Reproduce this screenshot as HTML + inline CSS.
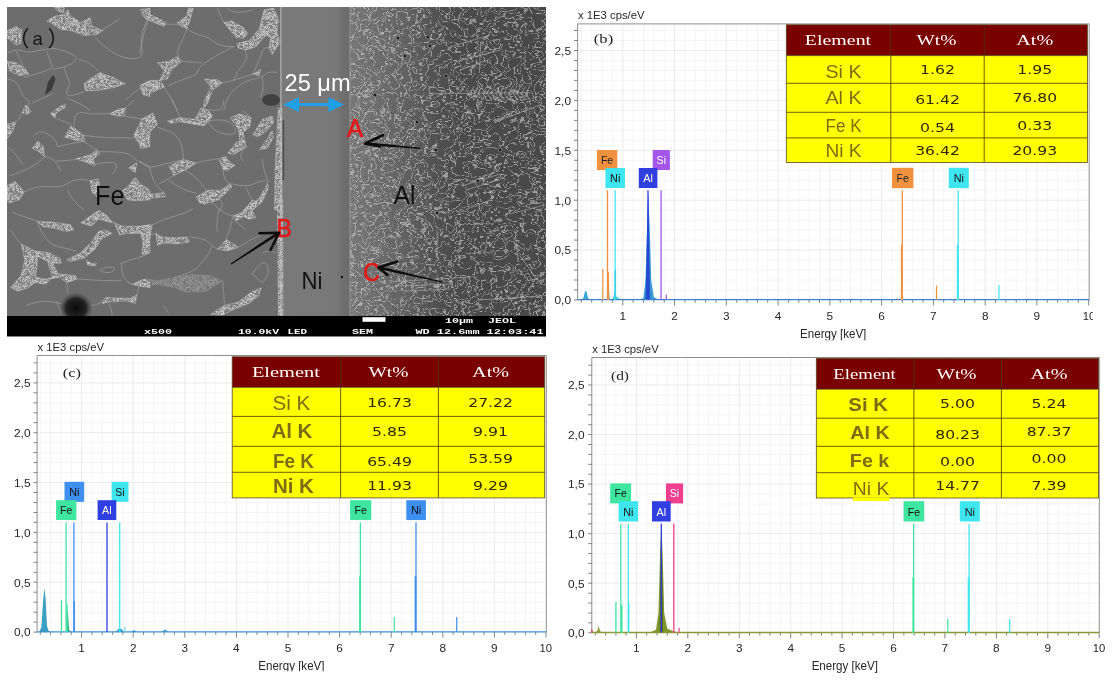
<!DOCTYPE html>
<html lang="en"><head><meta charset="utf-8"><title>SEM and EDS analysis</title>
<style>html,body{margin:0;padding:0;background:#fff}svg{display:block}</style></head>
<body>
<svg width="1113" height="683" viewBox="0 0 1113 683">
<rect width="1113" height="683" fill="#fff"/>
<defs>
<linearGradient id="niG" x1="0" x2="1" y1="0" y2="0"><stop offset="0" stop-color="#797979"/><stop offset="0.8" stop-color="#787878"/><stop offset="0.88" stop-color="#6f6f6f"/><stop offset="1" stop-color="#6b6b6b"/></linearGradient>
<linearGradient id="alG" x1="0" x2="1" y1="0" y2="0"><stop offset="0" stop-color="#626262"/><stop offset="0.25" stop-color="#565656"/><stop offset="0.45" stop-color="#4b4b4b"/><stop offset="1" stop-color="#484848"/></linearGradient>
<radialGradient id="blob"><stop offset="0" stop-color="#0a0a0a"/><stop offset="0.6" stop-color="#222"/><stop offset="1" stop-color="#555" stop-opacity="0"/></radialGradient>
<filter id="spk" x="0" y="0" width="100%" height="100%" filterUnits="objectBoundingBox"><feTurbulence type="fractalNoise" baseFrequency="0.3" numOctaves="2" seed="3" result="n"/><feComponentTransfer in="n"><feFuncA type="table" tableValues="0 0 0 0 0 0 0.75 0 0.8 0 0.75 0 0 0 0 0 0 0 0"/><feFuncR type="linear" slope="0" intercept="0.8"/><feFuncG type="linear" slope="0" intercept="0.8"/><feFuncB type="linear" slope="0" intercept="0.8"/></feComponentTransfer><feComposite in2="SourceGraphic" operator="in"/></filter>
<filter id="vein" x="0" y="0" width="100%" height="100%"><feTurbulence type="fractalNoise" baseFrequency="0.075 0.09" numOctaves="3" seed="11" result="n"/><feComponentTransfer in="n"><feFuncA type="table" tableValues="0 0 0 0 0 0 0 0 0 0 0 0 0.7 0 0 0 0 0.6 0 0 0 0 0 0 0 0 0 0 0 0"/><feFuncR type="linear" slope="0" intercept="0.72"/><feFuncG type="linear" slope="0" intercept="0.72"/><feFuncB type="linear" slope="0" intercept="0.72"/></feComponentTransfer><feComposite in2="SourceGraphic" operator="in"/></filter>
<filter id="grain" x="0" y="0" width="100%" height="100%"><feTurbulence type="fractalNoise" baseFrequency="0.8" numOctaves="1" seed="5"/><feColorMatrix type="matrix" values="0 0 0 0 0.62  0 0 0 0 0.62  0 0 0 0 0.62  0.5 0 0 0 -0.05"/><feComposite in2="SourceGraphic" operator="in"/></filter>
<linearGradient id="fadeG" x1="350" x2="460" y1="0" y2="0" gradientUnits="userSpaceOnUse"><stop offset="0" stop-color="#fff"/><stop offset="0.35" stop-color="#bbb"/><stop offset="1" stop-color="#000"/></linearGradient><mask id="fadeM" maskUnits="userSpaceOnUse" x="350" y="7" width="110" height="310"><rect x="350" y="7" width="110" height="310" fill="url(#fadeG)"/></mask>
<clipPath id="semclip"><rect x="7" y="7" width="539" height="309"/></clipPath>
<clipPath id="feclip"><rect x="7" y="7" width="277" height="309"/></clipPath>
</defs>
<g clip-path="url(#semclip)">
<rect x="7" y="7" width="275" height="310" fill="#6d6d6d"/>
<rect x="281" y="7" width="69.5" height="310" fill="url(#niG)"/>
<rect x="350" y="7" width="196" height="310" fill="url(#alG)"/>
<g clip-path="url(#feclip)">
<path d="M7.2 30.6 L16.1 26.6 L21.7 29.8 L20.9 43.5 L16.1 45.1 L7.2 37.9Z M46.7 20.9 L54.8 16.1 L64.4 14.5 L67.7 9.7 L70.9 16.1 L80.6 22.6 L90.2 17.7 L91.8 25.8 L103.1 30.6 L96.7 34.6 L83.8 35.4 L70.9 30.6 L61.2 29.8 L53.2 24.2Z M54.0 7.2 L64.4 7.2 L63.6 12.9 L58.0 11.3Z M7.2 61.2 L16.1 62.8 L24.2 67.7 L29.0 74.1 L19.3 75.7 L9.7 70.9Z M90.2 78.9 L99.9 72.5 L112.8 77.3 L125.7 83.8 L112.8 87.8 L99.9 90.2 L85.4 91.0 L83.8 83.8Z M140.2 85.4 L150.0 82.2 L150.0 96.7 L145.0 95.1Z M141.8 14.5 L150.0 8.1 L150.0 20.9 L145.0 17.7Z M140.0 9.7 L149.7 8.1 L149.7 14.5 L157.7 17.7 L165.8 22.6 L164.2 26.6 L154.5 22.6 L146.4 19.3Z M177.1 22.6 L186.7 16.1 L188.3 8.1 L193.2 8.1 L189.9 20.9 L186.7 29.0 L180.3 25.8Z M223.8 22.6 L231.8 20.9 L243.1 27.4 L247.9 33.8 L243.1 38.7 L235.1 37.1 L230.2 30.6Z M236.7 43.5 L249.6 40.3 L259.2 29.0 L264.1 9.7 L273.7 8.1 L278.6 19.3 L276.9 32.2 L280.2 41.9 L272.1 54.8 L268.9 48.3 L270.5 37.1 L265.7 35.4 L256.0 46.7 L246.3 49.9 L238.3 48.3Z M157.7 62.8 L169.0 61.2 L177.1 56.4 L181.9 61.2 L172.2 69.3 L167.4 78.9 L159.3 80.6 L164.2 70.9Z M140.0 85.4 L149.7 80.6 L160.9 80.6 L164.2 87.0 L149.7 93.4 L143.2 95.1Z M204.4 78.9 L217.3 79.7 L222.2 83.0 L212.5 90.2 L207.7 103.1 L202.8 110.0 L204.4 99.9 L210.9 87.0Z M252.8 74.1 L260.8 69.3 L259.2 75.7Z M21.7 112.9 L25.8 104.8 L31.4 111.3 L27.4 114.5Z M7.2 124.2 L16.1 121.7 L12.1 132.2 L7.2 138.7Z M50.7 113.7 L59.6 106.4 L66.1 104.0 L64.4 108.1 L56.4 112.9 L54.8 117.7Z M64.4 137.1 L70.9 125.8 L75.7 129.0 L83.8 135.4 L84.6 141.9 L75.7 140.3Z M109.6 113.7 L119.2 108.9 L125.7 108.1 L124.1 116.1 L116.0 116.1Z M133.7 135.4 L141.8 119.3 L150.0 116.1 L150.0 146.7 L141.8 148.3Z M32.2 148.3 L37.9 141.1 L43.5 146.7 L44.3 156.4 L38.7 151.6Z M75.7 158.8 L90.2 154.8 L96.7 149.9 L99.9 153.2 L93.4 159.6 L95.1 166.1 L87.0 162.8Z M128.9 167.7 L136.9 162.8 L135.3 172.5Z M7.2 185.4 L15.3 181.4 L24.2 191.8 L19.3 199.9 L9.7 203.1 L7.2 199.9Z M90.2 180.6 L98.3 178.9 L99.9 187.0 L96.7 196.7 L91.8 191.8Z M127.3 187.0 L135.3 177.3 L140.2 183.8 L150.0 190.2 L150.0 199.9 L136.9 200.7 L127.3 199.9 L122.4 190.2Z M141.6 119.3 L152.9 112.9 L157.7 124.2 L149.7 132.2 L146.4 146.7 L140.0 148.3 L143.2 132.2Z M167.4 120.9 L180.3 117.7 L194.8 119.3 L201.2 108.1 L207.7 109.7 L212.5 116.1 L204.4 125.8 L193.2 124.2 L180.3 121.7 L170.6 123.4Z M230.2 117.7 L239.9 113.7 L251.2 117.7 L249.6 127.4 L243.1 132.2 L244.7 140.3 L239.9 141.9 L238.3 129.0Z M227.8 153.2 L236.7 141.9 L244.7 140.3 L246.3 146.7 L233.4 154.8Z M252.8 134.6 L262.4 119.3 L272.1 116.1 L273.7 122.6 L267.3 130.6 L257.6 137.1Z M259.2 149.9 L267.3 138.7 L272.1 130.6 L273.7 137.1 L267.3 148.3Z M218.9 158.8 L225.4 156.4 L230.2 162.8 L235.1 165.2 L227.0 170.9 L223.0 169.3Z M169.0 166.1 L183.5 159.6 L196.4 162.8 L186.7 169.3 L173.8 175.7Z M196.4 196.7 L207.7 190.2 L220.6 190.2 L230.2 183.8 L231.8 187.0 L223.8 195.1 L218.9 199.9 L207.7 203.1 L199.6 203.1Z M140.0 190.2 L143.2 195.1 L156.1 193.4 L164.2 192.6 L165.8 196.7 L149.7 198.3 L140.0 200.7Z M278.2 108.1 L281.8 108.1 L282.1 210.0 L274.5 210.0 L275.3 164.4 L276.9 132.2Z M246.3 210.0 L259.2 198.3 L267.3 183.8 L268.9 187.0 L262.4 201.5 L252.8 210.0Z M36.9 221.1 L52.7 222.0 L70.3 224.6 L73.8 229.9 L66.7 231.6 L52.7 228.1 L42.2 226.3Z M80.8 222.8 L93.1 214.1 L98.4 210.5 L105.4 214.1 L112.4 222.8 L105.4 221.1 L98.4 219.3 L91.3 226.3Z M114.2 222.8 L123.0 226.3 L140.5 226.3 L150.0 224.6 L150.0 235.1 L140.5 233.4 L126.5 233.4 L119.4 235.1Z M66.7 259.7 L80.8 252.7 L91.3 242.2 L98.4 231.6 L105.4 229.9 L112.4 233.4 L101.9 238.6 L94.9 249.2 L84.3 258.0 L70.3 261.5Z M140.5 233.4 L150.0 233.4 L150.0 252.7 L145.8 254.5 L143.2 243.9Z M21.1 243.9 L35.1 250.9 L37.8 256.2 L36.0 277.3 L45.7 279.0 L52.7 277.3 L47.4 261.5 L37.8 256.2 L35.1 250.9 L49.2 252.7 L59.7 258.0 L61.5 263.2 L52.7 263.2 L58.0 273.8 L75.5 275.5 L77.3 279.0 L66.7 282.6 L59.7 277.3 L50.9 279.0 L45.7 284.3 L35.1 282.6 L28.1 287.8 L17.6 291.3 L10.5 287.8 L21.1 275.5 L24.6 259.7Z M86.1 259.7 L91.3 263.2 L96.6 263.2 L94.9 265.9 L87.8 265.0Z M131.7 284.3 L144.0 279.0 L150.0 282.6 L150.0 287.8 L138.8 286.1Z M101.9 303.6 L105.4 297.5 L130.0 298.4 L137.0 294.9 L135.3 303.6 L126.5 301.0 L108.9 301.9Z M140.0 226.3 L152.3 224.6 L150.5 235.1 L147.0 252.7 L141.8 254.5 L143.5 238.6Z M155.8 233.4 L162.8 236.9 L175.1 237.8 L187.4 236.9 L189.2 242.2 L175.1 243.9 L162.8 243.0 L157.6 245.7Z M198.0 200.0 L208.5 200.0 L205.0 204.4Z M233.1 215.8 L241.9 212.3 L252.4 200.0 L257.7 201.8 L252.4 210.5 L255.9 217.6 L248.9 219.3 L243.6 216.7 L235.7 221.1Z M217.3 249.2 L226.1 239.5 L234.9 244.8 L238.4 247.4 L227.8 250.9Z M210.3 314.2 L224.3 305.4 L238.4 301.9 L252.4 291.3 L261.2 287.8 L259.4 294.9 L248.9 303.6 L234.9 308.9 L222.6 315.1Z M277.4 200.0 L282.6 200.0 L283.2 315.1 L278.4 315.1Z" fill="#7e7e7e" stroke="#a6a6a6" stroke-width="0.6" stroke-linejoin="round"/>
<path d="M7.2 30.6 L16.1 26.6 L21.7 29.8 L20.9 43.5 L16.1 45.1 L7.2 37.9Z M46.7 20.9 L54.8 16.1 L64.4 14.5 L67.7 9.7 L70.9 16.1 L80.6 22.6 L90.2 17.7 L91.8 25.8 L103.1 30.6 L96.7 34.6 L83.8 35.4 L70.9 30.6 L61.2 29.8 L53.2 24.2Z M54.0 7.2 L64.4 7.2 L63.6 12.9 L58.0 11.3Z M7.2 61.2 L16.1 62.8 L24.2 67.7 L29.0 74.1 L19.3 75.7 L9.7 70.9Z M90.2 78.9 L99.9 72.5 L112.8 77.3 L125.7 83.8 L112.8 87.8 L99.9 90.2 L85.4 91.0 L83.8 83.8Z M140.2 85.4 L150.0 82.2 L150.0 96.7 L145.0 95.1Z M141.8 14.5 L150.0 8.1 L150.0 20.9 L145.0 17.7Z M140.0 9.7 L149.7 8.1 L149.7 14.5 L157.7 17.7 L165.8 22.6 L164.2 26.6 L154.5 22.6 L146.4 19.3Z M177.1 22.6 L186.7 16.1 L188.3 8.1 L193.2 8.1 L189.9 20.9 L186.7 29.0 L180.3 25.8Z M223.8 22.6 L231.8 20.9 L243.1 27.4 L247.9 33.8 L243.1 38.7 L235.1 37.1 L230.2 30.6Z M236.7 43.5 L249.6 40.3 L259.2 29.0 L264.1 9.7 L273.7 8.1 L278.6 19.3 L276.9 32.2 L280.2 41.9 L272.1 54.8 L268.9 48.3 L270.5 37.1 L265.7 35.4 L256.0 46.7 L246.3 49.9 L238.3 48.3Z M157.7 62.8 L169.0 61.2 L177.1 56.4 L181.9 61.2 L172.2 69.3 L167.4 78.9 L159.3 80.6 L164.2 70.9Z M140.0 85.4 L149.7 80.6 L160.9 80.6 L164.2 87.0 L149.7 93.4 L143.2 95.1Z M204.4 78.9 L217.3 79.7 L222.2 83.0 L212.5 90.2 L207.7 103.1 L202.8 110.0 L204.4 99.9 L210.9 87.0Z M252.8 74.1 L260.8 69.3 L259.2 75.7Z M21.7 112.9 L25.8 104.8 L31.4 111.3 L27.4 114.5Z M7.2 124.2 L16.1 121.7 L12.1 132.2 L7.2 138.7Z M50.7 113.7 L59.6 106.4 L66.1 104.0 L64.4 108.1 L56.4 112.9 L54.8 117.7Z M64.4 137.1 L70.9 125.8 L75.7 129.0 L83.8 135.4 L84.6 141.9 L75.7 140.3Z M109.6 113.7 L119.2 108.9 L125.7 108.1 L124.1 116.1 L116.0 116.1Z M133.7 135.4 L141.8 119.3 L150.0 116.1 L150.0 146.7 L141.8 148.3Z M32.2 148.3 L37.9 141.1 L43.5 146.7 L44.3 156.4 L38.7 151.6Z M75.7 158.8 L90.2 154.8 L96.7 149.9 L99.9 153.2 L93.4 159.6 L95.1 166.1 L87.0 162.8Z M128.9 167.7 L136.9 162.8 L135.3 172.5Z M7.2 185.4 L15.3 181.4 L24.2 191.8 L19.3 199.9 L9.7 203.1 L7.2 199.9Z M90.2 180.6 L98.3 178.9 L99.9 187.0 L96.7 196.7 L91.8 191.8Z M127.3 187.0 L135.3 177.3 L140.2 183.8 L150.0 190.2 L150.0 199.9 L136.9 200.7 L127.3 199.9 L122.4 190.2Z M141.6 119.3 L152.9 112.9 L157.7 124.2 L149.7 132.2 L146.4 146.7 L140.0 148.3 L143.2 132.2Z M167.4 120.9 L180.3 117.7 L194.8 119.3 L201.2 108.1 L207.7 109.7 L212.5 116.1 L204.4 125.8 L193.2 124.2 L180.3 121.7 L170.6 123.4Z M230.2 117.7 L239.9 113.7 L251.2 117.7 L249.6 127.4 L243.1 132.2 L244.7 140.3 L239.9 141.9 L238.3 129.0Z M227.8 153.2 L236.7 141.9 L244.7 140.3 L246.3 146.7 L233.4 154.8Z M252.8 134.6 L262.4 119.3 L272.1 116.1 L273.7 122.6 L267.3 130.6 L257.6 137.1Z M259.2 149.9 L267.3 138.7 L272.1 130.6 L273.7 137.1 L267.3 148.3Z M218.9 158.8 L225.4 156.4 L230.2 162.8 L235.1 165.2 L227.0 170.9 L223.0 169.3Z M169.0 166.1 L183.5 159.6 L196.4 162.8 L186.7 169.3 L173.8 175.7Z M196.4 196.7 L207.7 190.2 L220.6 190.2 L230.2 183.8 L231.8 187.0 L223.8 195.1 L218.9 199.9 L207.7 203.1 L199.6 203.1Z M140.0 190.2 L143.2 195.1 L156.1 193.4 L164.2 192.6 L165.8 196.7 L149.7 198.3 L140.0 200.7Z M278.2 108.1 L281.8 108.1 L282.1 210.0 L274.5 210.0 L275.3 164.4 L276.9 132.2Z M246.3 210.0 L259.2 198.3 L267.3 183.8 L268.9 187.0 L262.4 201.5 L252.8 210.0Z M36.9 221.1 L52.7 222.0 L70.3 224.6 L73.8 229.9 L66.7 231.6 L52.7 228.1 L42.2 226.3Z M80.8 222.8 L93.1 214.1 L98.4 210.5 L105.4 214.1 L112.4 222.8 L105.4 221.1 L98.4 219.3 L91.3 226.3Z M114.2 222.8 L123.0 226.3 L140.5 226.3 L150.0 224.6 L150.0 235.1 L140.5 233.4 L126.5 233.4 L119.4 235.1Z M66.7 259.7 L80.8 252.7 L91.3 242.2 L98.4 231.6 L105.4 229.9 L112.4 233.4 L101.9 238.6 L94.9 249.2 L84.3 258.0 L70.3 261.5Z M140.5 233.4 L150.0 233.4 L150.0 252.7 L145.8 254.5 L143.2 243.9Z M21.1 243.9 L35.1 250.9 L37.8 256.2 L36.0 277.3 L45.7 279.0 L52.7 277.3 L47.4 261.5 L37.8 256.2 L35.1 250.9 L49.2 252.7 L59.7 258.0 L61.5 263.2 L52.7 263.2 L58.0 273.8 L75.5 275.5 L77.3 279.0 L66.7 282.6 L59.7 277.3 L50.9 279.0 L45.7 284.3 L35.1 282.6 L28.1 287.8 L17.6 291.3 L10.5 287.8 L21.1 275.5 L24.6 259.7Z M86.1 259.7 L91.3 263.2 L96.6 263.2 L94.9 265.9 L87.8 265.0Z M131.7 284.3 L144.0 279.0 L150.0 282.6 L150.0 287.8 L138.8 286.1Z M101.9 303.6 L105.4 297.5 L130.0 298.4 L137.0 294.9 L135.3 303.6 L126.5 301.0 L108.9 301.9Z M140.0 226.3 L152.3 224.6 L150.5 235.1 L147.0 252.7 L141.8 254.5 L143.5 238.6Z M155.8 233.4 L162.8 236.9 L175.1 237.8 L187.4 236.9 L189.2 242.2 L175.1 243.9 L162.8 243.0 L157.6 245.7Z M198.0 200.0 L208.5 200.0 L205.0 204.4Z M233.1 215.8 L241.9 212.3 L252.4 200.0 L257.7 201.8 L252.4 210.5 L255.9 217.6 L248.9 219.3 L243.6 216.7 L235.7 221.1Z M217.3 249.2 L226.1 239.5 L234.9 244.8 L238.4 247.4 L227.8 250.9Z M210.3 314.2 L224.3 305.4 L238.4 301.9 L252.4 291.3 L261.2 287.8 L259.4 294.9 L248.9 303.6 L234.9 308.9 L222.6 315.1Z M277.4 200.0 L282.6 200.0 L283.2 315.1 L278.4 315.1Z" fill="#fff" filter="url(#spk)"/>
<g opacity="0.45"><path d="M140.0 282.6 L145.3 279.0 L157.6 280.8 L175.1 277.3 L190.9 274.7 L210.3 275.5 L222.6 280.8 L213.8 286.1 L206.7 291.3 L185.7 292.2 L175.1 287.8 L157.6 284.3 L147.0 286.1Z" fill="#838383" stroke="#a6a6a6" stroke-width="0.6"/><path d="M140.0 282.6 L145.3 279.0 L157.6 280.8 L175.1 277.3 L190.9 274.7 L210.3 275.5 L222.6 280.8 L213.8 286.1 L206.7 291.3 L185.7 292.2 L175.1 287.8 L157.6 284.3 L147.0 286.1Z" fill="#fff" filter="url(#spk)"/></g>
<path d="M95.1 37.9 Q112.8 54.8 123.2 57.2 Q133.7 59.6 138.6 58.0 Q143.4 56.4 141.8 48.3 Q140.2 40.3 142.6 31.4 Q145.0 22.6 150.0 16.1 M96.7 33.8 L119.2 19.3 M7.2 53.2 Q16.1 48.3 21.7 50.7 Q27.4 53.2 33.8 51.6 Q40.3 49.9 53.2 48.3 M16.1 51.6 Q20.9 61.2 24.2 67.7 M46.7 51.6 Q51.6 64.4 52.4 66.1 Q53.2 67.7 47.5 70.1 Q41.9 72.5 24.2 77.3 M53.2 48.3 Q69.3 51.6 74.1 55.6 Q78.9 59.6 71.7 63.6 Q64.4 67.7 53.2 69.3 M64.4 67.7 Q67.7 78.9 69.3 81.4 Q70.9 83.8 68.5 87.0 Q66.1 90.2 66.9 94.2 Q67.7 98.3 83.8 91.8 M78.9 59.6 Q90.2 61.2 98.3 70.9 M7.2 78.9 Q16.1 80.6 18.5 85.4 Q20.9 90.2 21.7 93.4 Q22.6 96.7 27.4 99.9 Q32.2 103.1 25.8 110.0 M32.2 103.1 L53.2 93.4 M67.7 98.3 Q80.6 103.1 90.2 110.0 M125.7 99.9 Q136.9 90.2 141.8 87.0 M140.0 53.2 Q143.2 32.2 148.1 20.9 M165.8 24.2 L185.1 24.2 M186.7 29.0 Q181.9 41.9 179.1 46.7 Q176.2 51.6 178.7 58.0 M186.7 29.0 Q198.0 35.4 203.6 36.2 Q209.3 37.1 214.1 41.9 Q218.9 46.7 233.4 46.7 M189.9 20.9 L189.9 9.7 M217.3 8.1 L223.8 22.6 M233.4 46.7 Q201.2 62.8 198.8 69.3 Q196.4 75.7 192.4 76.5 Q188.3 77.3 169.0 85.4 M201.2 62.8 L181.9 61.2 M222.2 83.0 Q233.4 80.6 252.8 74.1 M252.8 74.1 Q259.2 61.2 261.6 53.2 Q264.1 45.1 268.9 48.3 M223.8 110.0 Q227.0 96.7 233.4 90.2 Q239.9 83.8 246.3 81.4 Q252.8 78.9 257.6 78.1 Q262.4 77.3 265.7 74.1 Q268.9 70.9 276.9 72.5 M244.7 49.9 Q249.6 58.0 243.1 64.4 Q236.7 70.9 233.4 80.6 M262.4 77.3 Q264.1 90.2 260.8 96.7 M164.2 87.0 Q172.2 99.9 177.1 110.0 M227.0 8.1 Q233.4 16.1 252.8 9.7 M7.2 146.7 Q16.1 153.2 22.6 164.4 M9.7 175.7 Q32.2 169.3 43.5 158.0 M34.6 134.6 Q38.7 130.6 43.5 132.2 Q48.3 133.8 52.4 137.1 Q56.4 140.3 58.0 146.7 M58.0 146.7 Q69.3 143.5 80.6 141.9 M84.6 141.9 Q93.4 148.3 96.7 149.9 M44.3 156.4 Q54.8 156.4 61.2 170.9 M56.4 161.2 L75.7 159.6 M74.1 125.8 Q74.1 116.1 77.3 113.7 Q80.6 111.3 85.4 112.9 Q90.2 114.5 109.6 113.7 M83.8 135.4 Q96.7 137.1 104.7 137.5 Q112.8 137.9 133.7 137.9 M99.9 151.6 Q112.8 151.6 120.8 152.4 Q128.9 153.2 132.9 157.2 Q136.9 161.2 150.0 167.7 M95.1 164.4 Q109.6 161.2 114.4 162.8 Q119.2 164.4 112.8 174.1 M124.1 116.1 L141.8 119.3 M24.2 191.8 Q37.1 185.4 49.1 186.6 Q61.2 187.8 66.1 184.2 Q70.9 180.6 77.3 179.7 Q83.8 178.9 90.2 180.6 M67.7 190.2 Q70.9 199.9 83.8 210.0 M20.9 114.5 Q17.7 122.6 16.1 121.7 M54.8 117.7 L70.9 124.2 M125.7 108.1 L133.7 100.0 M172.2 100.0 L180.3 117.7 M207.7 109.7 Q217.3 111.3 220.6 108.9 Q223.8 106.4 223.8 100.0 M207.7 120.9 Q210.9 127.4 215.7 130.6 Q220.6 133.8 227.0 134.2 Q233.4 134.6 235.1 132.6 Q236.7 130.6 233.4 125.8 Q230.2 120.9 223.0 120.1 Q215.7 119.3 207.7 120.9 M157.7 127.4 Q169.0 130.6 173.8 133.8 Q178.7 137.1 181.1 144.3 Q183.5 151.6 183.5 159.6 M183.5 159.6 Q156.1 166.1 152.9 166.9 Q149.7 167.7 140.0 161.2 M149.7 167.7 Q152.9 180.6 155.3 183.8 Q157.7 187.0 164.2 192.6 M169.0 180.6 Q181.9 190.2 196.4 193.4 M173.8 175.7 L159.3 183.8 M183.5 169.3 Q194.8 175.7 199.6 181.4 Q204.4 187.0 206.1 190.2 M218.9 158.8 Q201.2 161.2 196.4 162.8 M223.0 169.3 Q223.8 183.8 230.2 183.8 M231.8 183.8 Q246.3 187.8 252.8 184.2 Q259.2 180.6 265.7 180.6 M246.3 187.8 Q249.6 196.7 252.8 199.9 Q256.0 203.1 259.2 198.3 M262.4 159.6 Q264.1 172.5 266.5 176.5 Q268.9 180.6 267.3 183.8 M243.1 111.3 L249.6 116.1 M246.3 146.7 Q236.7 154.8 243.1 161.2 M220.6 210.0 Q223.8 204.7 220.6 199.9 M12.3 212.3 Q26.3 217.6 36.9 221.1 M36.9 221.1 Q42.2 235.1 47.4 240.4 Q52.7 245.7 59.7 247.0 Q66.7 248.3 75.5 250.9 M10.5 229.9 Q17.6 240.4 22.8 245.7 M98.4 210.5 Q108.9 217.6 114.2 222.8 M121.2 263.2 Q130.0 259.7 137.0 258.0 Q144.0 256.2 150.0 252.7 M121.2 263.2 Q121.2 280.8 131.7 284.3 M100.1 270.3 Q101.9 267.6 108.9 267.2 Q115.9 266.7 114.2 269.8 Q112.4 272.9 106.3 272.5 Q100.1 272.0 100.1 270.3 M66.7 282.6 L67.6 293.1 M77.3 279.0 Q98.4 280.8 121.2 280.8 M26.3 305.4 Q35.1 301.9 42.2 301.4 Q49.2 301.0 61.5 303.6 M56.2 301.9 L61.5 312.4 M137.0 294.9 L138.8 286.1 M105.4 297.5 Q100.1 305.4 91.3 305.4 M108.9 301.9 L112.4 315.1 M152.3 224.6 Q168.1 217.6 176.0 215.8 Q183.9 214.1 192.7 208.8 M208.5 200.0 Q219.0 208.8 220.8 210.5 Q222.6 212.3 231.3 215.8 M219.0 208.8 Q215.5 226.3 217.3 231.6 M233.1 215.8 Q231.3 226.3 226.1 239.5 M235.7 221.1 L245.4 229.9 M189.2 236.9 Q205.0 238.6 208.5 242.2 Q212.0 245.7 217.3 249.2 M212.0 245.7 Q210.3 252.7 205.0 258.8 Q199.7 265.0 196.2 268.5 Q192.7 272.0 175.1 277.3 M238.4 247.4 Q248.9 240.4 263.0 233.4 M252.4 273.8 Q263.0 258.0 266.5 264.1 Q270.0 270.3 266.5 277.3 Q263.0 284.3 259.4 280.8 Q255.9 277.3 252.4 273.8 M263.0 252.7 Q268.2 249.2 275.3 252.7 M222.6 280.8 Q224.3 298.4 224.3 305.4 M162.8 305.4 L168.1 312.4 M150.5 235.1 L155.8 233.4 M147.0 252.7 L140.0 258.0" fill="none" stroke="#a6a6a6" stroke-width="0.65" stroke-linecap="round" opacity="0.9"/>
<path d="M45 95 L48 82 L53 75 L55.5 79 L51.5 90Z" fill="#3c3c3c"/>
<ellipse cx="271" cy="100" rx="9" ry="6" fill="#3a3a3a" opacity="0.85"/>
<ellipse cx="76" cy="308" rx="17" ry="16" fill="url(#blob)"/>
</g>
<rect x="280.3" y="7" width="1.2" height="310" fill="#c4c4c4" opacity="0.8"/>
<rect x="282.6" y="120" width="1.6" height="60" fill="#333" opacity="0.6"/>
<rect x="350" y="7" width="196" height="310" fill="#fff" filter="url(#vein)"/>
<g mask="url(#fadeM)"><rect x="350" y="7" width="110" height="310" fill="#fff" filter="url(#grain)"/></g>
<rect x="349.3" y="7" width="1.2" height="310" fill="#a8a8a8" opacity="0.55"/>
<path d="M429 93.7 L530 92.6 M450 47 L490 35 M480.6 44.5 L479.4 72.6 M389 282 L471 277 M437 230 L437 258 M466.5 209 L492 200 M462 186 L500 174 M466 190 L504 178 M470 182 L498 171 M520 256 L539 282 M400 286 L452 284 M405 291 L450 289 M412 283 L412 292 M425 282 L425 291 M438 281 L438 290 M455 62 L500 50 M460 70 L488 60 M500 120 L540 105 M505 215 L545 205 M478 300 L540 296 M515 230 L518 262 M470.0 93.2 L474.0 86.5 M470.0 93.2 L474.0 99.5 M474.3 93.2 L478.3 85.5 M474.3 93.2 L478.3 100.5 M478.6 93.2 L482.6 84.5 M478.6 93.2 L482.6 99.5 M482.9 93.2 L486.9 86.5 M482.9 93.2 L486.9 100.5 M487.2 93.2 L491.2 85.5 M487.2 93.2 L491.2 99.5 M491.5 93.2 L495.5 84.5 M491.5 93.2 L495.5 100.5 M495.8 93.2 L499.8 86.5 M495.8 93.2 L499.8 99.5 M500.1 93.2 L504.1 85.5 M500.1 93.2 L504.1 100.5 M504.4 93.2 L508.4 84.5 M504.4 93.2 L508.4 99.5 M508.7 93.2 L512.7 86.5 M508.7 93.2 L512.7 100.5 M513.0 93.2 L517.0 85.5 M513.0 93.2 L517.0 99.5 M517.3 93.2 L521.3 84.5 M517.3 93.2 L521.3 100.5 M521.6 93.2 L525.6 86.5 M521.6 93.2 L525.6 99.5 M525.9 93.2 L529.9 85.5 M525.9 93.2 L529.9 100.5" fill="none" stroke="#b4b4b4" stroke-width="0.7" stroke-linecap="round" opacity="0.85"/>
<circle cx="398" cy="38" r="1.9" fill="#1a1a1a" stroke="#9a9a9a" stroke-width="0.7"/>
<circle cx="428" cy="37" r="1.9" fill="#1a1a1a" stroke="#9a9a9a" stroke-width="0.7"/>
<circle cx="430" cy="46" r="1.9" fill="#1a1a1a" stroke="#9a9a9a" stroke-width="0.7"/>
<circle cx="405" cy="56" r="1.9" fill="#1a1a1a" stroke="#9a9a9a" stroke-width="0.7"/>
<circle cx="446" cy="76" r="1.9" fill="#1a1a1a" stroke="#9a9a9a" stroke-width="0.7"/>
<circle cx="417" cy="122" r="1.9" fill="#1a1a1a" stroke="#9a9a9a" stroke-width="0.7"/>
<circle cx="436" cy="150" r="1.9" fill="#1a1a1a" stroke="#9a9a9a" stroke-width="0.7"/>
<circle cx="342" cy="277" r="1.9" fill="#1a1a1a" stroke="#9a9a9a" stroke-width="0.7"/>
<circle cx="478" cy="181" r="1.9" fill="#1a1a1a" stroke="#9a9a9a" stroke-width="0.7"/>
<circle cx="437" cy="213" r="1.9" fill="#1a1a1a" stroke="#9a9a9a" stroke-width="0.7"/>
<circle cx="500" cy="150" r="1.9" fill="#1a1a1a" stroke="#9a9a9a" stroke-width="0.7"/>
<circle cx="375" cy="95" r="1.9" fill="#1a1a1a" stroke="#9a9a9a" stroke-width="0.7"/>
</g>
<rect x="7" y="316" width="539" height="20.5" fill="#000"/>
<rect x="362.5" y="317.2" width="23" height="4.6" fill="#fff"/>
<text x="144.0" y="333.6" font-family="'Liberation Mono','DejaVu Sans Mono',monospace" font-size="7.5" fill="#fff" textLength="28.0" lengthAdjust="spacingAndGlyphs" font-weight="bold">x500</text>
<text x="238.0" y="333.6" font-family="'Liberation Mono','DejaVu Sans Mono',monospace" font-size="7.5" fill="#fff" textLength="41.0" lengthAdjust="spacingAndGlyphs" font-weight="bold">10.0kV</text>
<text x="287.5" y="333.6" font-family="'Liberation Mono','DejaVu Sans Mono',monospace" font-size="7.5" fill="#fff" textLength="19.5" lengthAdjust="spacingAndGlyphs" font-weight="bold">LED</text>
<text x="352.0" y="333.6" font-family="'Liberation Mono','DejaVu Sans Mono',monospace" font-size="7.5" fill="#fff" textLength="21.0" lengthAdjust="spacingAndGlyphs" font-weight="bold">SEM</text>
<text x="415.5" y="333.6" font-family="'Liberation Mono','DejaVu Sans Mono',monospace" font-size="7.5" fill="#fff" textLength="128.0" lengthAdjust="spacingAndGlyphs" font-weight="bold">WD 12.6mm 12:03:41</text>
<text x="445.0" y="323.4" font-family="'Liberation Mono','DejaVu Sans Mono',monospace" font-size="7.5" fill="#fff" textLength="28.0" lengthAdjust="spacingAndGlyphs" font-weight="bold">10μm</text>
<text x="488.0" y="323.4" font-family="'Liberation Mono','DejaVu Sans Mono',monospace" font-size="7.5" fill="#fff" textLength="28.0" lengthAdjust="spacingAndGlyphs" font-weight="bold">JEOL</text>
<text y="45.3" font-family="'Liberation Sans','Noto Sans CJK SC',sans-serif" fill="#151515"><tspan x="8" y="46" font-size="21.5">（</tspan><tspan x="32.4" y="45.3" font-size="18.5">a</tspan><tspan x="47.6" y="46" font-size="21.5">）</tspan></text>
<text x="284.6" y="91.0" font-family="'Liberation Sans','DejaVu Sans',sans-serif" font-size="23" fill="#fff" textLength="66.0" lengthAdjust="spacingAndGlyphs">25 μm</text>
<path d="M283.2 104.5 L299 97.3 L299 103 L328.5 103 L328.5 97.3 L344 104.5 L328.5 112 L328.5 106 L299 106 L299 112Z" fill="#1e9fe6"/>
<text x="347.0" y="136.5" font-family="'Liberation Sans','DejaVu Sans',sans-serif" font-size="25" fill="#e31b1b" textLength="16.0" lengthAdjust="spacingAndGlyphs" stroke="#e31b1b" stroke-width="0.7">A</text>
<text x="276.8" y="236.5" font-family="'Liberation Sans','DejaVu Sans',sans-serif" font-size="25" fill="#e31b1b" textLength="15.0" lengthAdjust="spacingAndGlyphs" stroke="#e31b1b" stroke-width="0.7">B</text>
<text x="363.3" y="281.0" font-family="'Liberation Sans','DejaVu Sans',sans-serif" font-size="25" fill="#e31b1b" textLength="16.5" lengthAdjust="spacingAndGlyphs" stroke="#e31b1b" stroke-width="0.7">C</text>
<text x="95.0" y="204.8" font-family="'Liberation Sans','DejaVu Sans',sans-serif" font-size="27.5" fill="#111" textLength="29.5" lengthAdjust="spacingAndGlyphs">Fe</text>
<text x="301.5" y="288.8" font-family="'Liberation Sans','DejaVu Sans',sans-serif" font-size="24" fill="#111" textLength="21.0" lengthAdjust="spacingAndGlyphs">Ni</text>
<text x="393.5" y="203.8" font-family="'Liberation Sans','DejaVu Sans',sans-serif" font-size="25" fill="#111" textLength="22.0" lengthAdjust="spacingAndGlyphs">Al</text>
<path d="M420.1 147.7 L365.1 142.0 L364.9 145.0 L419.9 148.9Z" fill="#0c0c0c"/>
<path d="M383 135.2 L365 143.5 L380 146.5" fill="none" stroke="#0c0c0c" stroke-width="2.6" stroke-linecap="round" stroke-linejoin="round"/>
<path d="M231.3 264.5 L279.8 234.1 L278.2 231.5 L230.7 263.5Z" fill="#0c0c0c"/>
<path d="M259.5 233.3 L279 232.8 L270.5 250" fill="none" stroke="#0c0c0c" stroke-width="2.6" stroke-linecap="round" stroke-linejoin="round"/>
<path d="M442.1 281.4 L378.8 266.0 L378.2 269.0 L441.9 282.6Z" fill="#0c0c0c"/>
<path d="M397.5 261.5 L378.5 267.5 L387.5 275" fill="none" stroke="#0c0c0c" stroke-width="2.6" stroke-linecap="round" stroke-linejoin="round"/>
<rect x="577.6" y="23.9" width="511.6" height="276.1" fill="#fff"/>
<path d="M581.4 23.9 V300 M591.7 23.9 V300 M602.1 23.9 V300 M612.4 23.9 V300 M633.1 23.9 V300 M643.5 23.9 V300 M653.8 23.9 V300 M664.2 23.9 V300 M684.9 23.9 V300 M695.2 23.9 V300 M705.6 23.9 V300 M716.0 23.9 V300 M736.7 23.9 V300 M747.0 23.9 V300 M757.4 23.9 V300 M767.7 23.9 V300 M788.4 23.9 V300 M798.8 23.9 V300 M809.1 23.9 V300 M819.5 23.9 V300 M840.2 23.9 V300 M850.6 23.9 V300 M860.9 23.9 V300 M871.3 23.9 V300 M892.0 23.9 V300 M902.3 23.9 V300 M912.7 23.9 V300 M923.0 23.9 V300 M943.7 23.9 V300 M954.1 23.9 V300 M964.5 23.9 V300 M974.8 23.9 V300 M995.5 23.9 V300 M1005.9 23.9 V300 M1016.2 23.9 V300 M1026.6 23.9 V300 M1047.3 23.9 V300 M1057.6 23.9 V300 M1068.0 23.9 V300 M1078.3 23.9 V300 M577.6 290.0 H1089.2 M577.6 280.0 H1089.2 M577.6 270.1 H1089.2 M577.6 260.1 H1089.2 M577.6 240.1 H1089.2 M577.6 230.1 H1089.2 M577.6 220.2 H1089.2 M577.6 210.2 H1089.2 M577.6 190.2 H1089.2 M577.6 180.2 H1089.2 M577.6 170.3 H1089.2 M577.6 160.3 H1089.2 M577.6 140.3 H1089.2 M577.6 130.3 H1089.2 M577.6 120.4 H1089.2 M577.6 110.4 H1089.2 M577.6 90.4 H1089.2 M577.6 80.4 H1089.2 M577.6 70.5 H1089.2 M577.6 60.5 H1089.2 M577.6 40.5 H1089.2 M577.6 30.5 H1089.2" stroke="#f4f4f4" stroke-width="1" fill="none"/>
<path d="M622.8 23.9 V300 M674.5 23.9 V300 M726.3 23.9 V300 M778.1 23.9 V300 M829.9 23.9 V300 M881.6 23.9 V300 M933.4 23.9 V300 M985.2 23.9 V300 M1036.9 23.9 V300 M577.6 250.1 H1089.2 M577.6 200.2 H1089.2 M577.6 150.3 H1089.2 M577.6 100.4 H1089.2 M577.6 50.5 H1089.2" stroke="#ebebeb" stroke-width="1" fill="none"/>
<path d="M577.6 300 V23.9 H1089.2 V300" stroke="#8e8e8e" stroke-width="1" fill="none"/>
<path d="M574.0 300.0 H577.6 M574.0 290.0 H577.6 M574.0 280.0 H577.6 M574.0 270.1 H577.6 M574.0 260.1 H577.6 M574.0 250.1 H577.6 M574.0 240.1 H577.6 M574.0 230.1 H577.6 M574.0 220.2 H577.6 M574.0 210.2 H577.6 M574.0 200.2 H577.6 M574.0 190.2 H577.6 M574.0 180.2 H577.6 M574.0 170.3 H577.6 M574.0 160.3 H577.6 M574.0 150.3 H577.6 M574.0 140.3 H577.6 M574.0 130.3 H577.6 M574.0 120.4 H577.6 M574.0 110.4 H577.6 M574.0 100.4 H577.6 M574.0 90.4 H577.6 M574.0 80.4 H577.6 M574.0 70.5 H577.6 M574.0 60.5 H577.6 M574.0 50.5 H577.6 M574.0 40.5 H577.6 M574.0 30.5 H577.6 M581.4 300 V302.8 M591.7 300 V302.8 M602.1 300 V302.8 M612.4 300 V302.8 M622.8 300 V305.5 M633.1 300 V302.8 M643.5 300 V302.8 M653.8 300 V302.8 M664.2 300 V302.8 M674.5 300 V305.5 M684.9 300 V302.8 M695.2 300 V302.8 M705.6 300 V302.8 M716.0 300 V302.8 M726.3 300 V305.5 M736.7 300 V302.8 M747.0 300 V302.8 M757.4 300 V302.8 M767.7 300 V302.8 M778.1 300 V305.5 M788.4 300 V302.8 M798.8 300 V302.8 M809.1 300 V302.8 M819.5 300 V302.8 M829.9 300 V305.5 M840.2 300 V302.8 M850.6 300 V302.8 M860.9 300 V302.8 M871.3 300 V302.8 M881.6 300 V305.5 M892.0 300 V302.8 M902.3 300 V302.8 M912.7 300 V302.8 M923.0 300 V302.8 M933.4 300 V305.5 M943.7 300 V302.8 M954.1 300 V302.8 M964.5 300 V302.8 M974.8 300 V302.8 M985.2 300 V305.5 M995.5 300 V302.8 M1005.9 300 V302.8 M1016.2 300 V302.8 M1026.6 300 V302.8 M1036.9 300 V305.5 M1047.3 300 V302.8 M1057.6 300 V302.8 M1068.0 300 V302.8 M1078.3 300 V302.8 M1088.7 300 V305.5" stroke="#6f767c" stroke-width="0.9" fill="none"/>
<text x="571.0" y="304.3" font-family="'Liberation Sans','DejaVu Sans',sans-serif" font-size="11.6" fill="#262626" text-anchor="end" textLength="16.5" lengthAdjust="spacingAndGlyphs">0,0</text>
<text x="571.0" y="254.4" font-family="'Liberation Sans','DejaVu Sans',sans-serif" font-size="11.6" fill="#262626" text-anchor="end" textLength="16.5" lengthAdjust="spacingAndGlyphs">0,5</text>
<text x="571.0" y="204.5" font-family="'Liberation Sans','DejaVu Sans',sans-serif" font-size="11.6" fill="#262626" text-anchor="end" textLength="16.5" lengthAdjust="spacingAndGlyphs">1,0</text>
<text x="571.0" y="154.6" font-family="'Liberation Sans','DejaVu Sans',sans-serif" font-size="11.6" fill="#262626" text-anchor="end" textLength="16.5" lengthAdjust="spacingAndGlyphs">1,5</text>
<text x="571.0" y="104.7" font-family="'Liberation Sans','DejaVu Sans',sans-serif" font-size="11.6" fill="#262626" text-anchor="end" textLength="16.5" lengthAdjust="spacingAndGlyphs">2,0</text>
<text x="571.0" y="54.8" font-family="'Liberation Sans','DejaVu Sans',sans-serif" font-size="11.6" fill="#262626" text-anchor="end" textLength="16.5" lengthAdjust="spacingAndGlyphs">2,5</text>
<text x="622.8" y="319.6" font-family="'Liberation Sans','DejaVu Sans',sans-serif" font-size="11.8" fill="#262626" text-anchor="middle">1</text>
<text x="674.5" y="319.6" font-family="'Liberation Sans','DejaVu Sans',sans-serif" font-size="11.8" fill="#262626" text-anchor="middle">2</text>
<text x="726.3" y="319.6" font-family="'Liberation Sans','DejaVu Sans',sans-serif" font-size="11.8" fill="#262626" text-anchor="middle">3</text>
<text x="778.1" y="319.6" font-family="'Liberation Sans','DejaVu Sans',sans-serif" font-size="11.8" fill="#262626" text-anchor="middle">4</text>
<text x="829.9" y="319.6" font-family="'Liberation Sans','DejaVu Sans',sans-serif" font-size="11.8" fill="#262626" text-anchor="middle">5</text>
<text x="881.6" y="319.6" font-family="'Liberation Sans','DejaVu Sans',sans-serif" font-size="11.8" fill="#262626" text-anchor="middle">6</text>
<text x="933.4" y="319.6" font-family="'Liberation Sans','DejaVu Sans',sans-serif" font-size="11.8" fill="#262626" text-anchor="middle">7</text>
<text x="985.2" y="319.6" font-family="'Liberation Sans','DejaVu Sans',sans-serif" font-size="11.8" fill="#262626" text-anchor="middle">8</text>
<text x="1036.9" y="319.6" font-family="'Liberation Sans','DejaVu Sans',sans-serif" font-size="11.8" fill="#262626" text-anchor="middle">9</text>
<clipPath id="c10"><rect x="1076.7" y="307.6" width="16.2" height="16"/></clipPath>
<text x="1088.9" y="319.6" font-family="'Liberation Sans','DejaVu Sans',sans-serif" font-size="11.8" fill="#262626" text-anchor="middle" textLength="12.5" lengthAdjust="spacingAndGlyphs" clip-path="url(#c10)">10</text>
<text x="578.0" y="19.0" font-family="'Liberation Sans','DejaVu Sans',sans-serif" font-size="11" fill="#262626" textLength="66.5" lengthAdjust="spacingAndGlyphs">x 1E3 cps/eV</text>
<text x="593.8" y="43.3" font-family="'Liberation Serif','DejaVu Serif',serif" font-size="12.5" fill="#222" textLength="19.4" lengthAdjust="spacingAndGlyphs">(b)</text>
<clipPath id="xcb"><rect x="783.2" y="318.2" width="100" height="22.0"/></clipPath>
<text x="833.2" y="338.2" font-family="'Liberation Sans','DejaVu Sans',sans-serif" font-size="13" fill="#262626" text-anchor="middle" textLength="66.3" lengthAdjust="spacingAndGlyphs" clip-path="url(#xcb)">Energy [keV]</text>
<path d="M581.4 300.0 L583.4 298.0 L585.0 291.0 L586.5 291.5 L588.1 298.0 L590.2 300.0Z" fill="#3aa6d8" opacity="1"/>
<path d="M611.4 300.0 L613.5 297.0 L615.0 290.0 L616.6 297.0 L620.2 299.0 L622.8 300.0Z" fill="#3ad0e8" opacity="1"/>
<path d="M606.7 300.0 L607.2 280.0 L608.8 278.0 L609.8 300.0Z" fill="#8cc0a0" opacity="0.9"/>
<path d="M638.3 300.0 L643.5 298.0 L645.5 280.0 L647.1 225.2 L648.1 193.2 L649.7 225.2 L651.2 280.0 L653.8 297.0 L659.0 300.0Z" fill="#3a9ad8" opacity="1"/>
<path d="M645.5 300.0 L646.6 250.1 L648.1 193.2 L649.4 250.1 L650.2 300.0Z" fill="#1f55c8" opacity="1"/>
<path d="M577.6 299.7 H1089.2" stroke="#3f7fc4" stroke-width="1.3"/>
<path d="M607.5 300 V190.2" stroke="#f0913f" stroke-width="1.3"/>
<path d="M615.1 300 V190.2" stroke="#3fe6f0" stroke-width="1.3"/>
<path d="M648.0 300 V190.2" stroke="#2f3fe0" stroke-width="1.3"/>
<path d="M661.1 300 V190.2" stroke="#a456ea" stroke-width="1.3"/>
<path d="M902.3 300 V190.2" stroke="#f0913f" stroke-width="1.3"/>
<path d="M958.2 300 V190.2" stroke="#3fe6f0" stroke-width="1.3"/>
<path d="M602.8 300 V269.1" stroke="#f0913f" stroke-width="1.2"/>
<path d="M608.3 300 V272.1" stroke="#f0913f" stroke-width="1.4"/>
<path d="M666.3 300 V294.5" stroke="#a456ea" stroke-width="1.2"/>
<path d="M936.5 300 V285.5" stroke="#f0913f" stroke-width="1.2"/>
<path d="M998.9 300 V285.0" stroke="#3fe6f0" stroke-width="1.2"/>
<path d="M901.8 300 V245.1" stroke="#f0913f" stroke-width="1.8"/>
<path d="M957.7 300 V245.1" stroke="#3fe6f0" stroke-width="1.8"/>
<path d="M615.3 300 V270.1" stroke="#3ad0e8" stroke-width="1.6"/>
<rect x="596.9" y="150" width="20.4" height="20.0" fill="#f0913f"/>
<text x="607.1" y="164.0" font-family="'Liberation Sans','DejaVu Sans',sans-serif" font-size="11.4" fill="#222" text-anchor="middle" textLength="12.3" lengthAdjust="spacingAndGlyphs">Fe</text>
<rect x="605.4" y="168" width="19.6" height="20.0" fill="#3fe6f0"/>
<text x="615.2" y="182.0" font-family="'Liberation Sans','DejaVu Sans',sans-serif" font-size="11.4" fill="#111" text-anchor="middle" textLength="10.2" lengthAdjust="spacingAndGlyphs">Ni</text>
<rect x="652.7" y="150" width="17.2" height="20.0" fill="#a456ea"/>
<text x="661.3" y="164.0" font-family="'Liberation Sans','DejaVu Sans',sans-serif" font-size="11.4" fill="#fff" text-anchor="middle" textLength="9.4" lengthAdjust="spacingAndGlyphs">Si</text>
<rect x="638.8" y="168" width="18.6" height="20.0" fill="#2f3fe0"/>
<text x="648.1" y="182.0" font-family="'Liberation Sans','DejaVu Sans',sans-serif" font-size="11.4" fill="#fff" text-anchor="middle" textLength="9.6" lengthAdjust="spacingAndGlyphs">Al</text>
<rect x="892" y="167.8" width="21.4" height="20.4" fill="#f0913f"/>
<text x="902.7" y="182.2" font-family="'Liberation Sans','DejaVu Sans',sans-serif" font-size="11.4" fill="#222" text-anchor="middle" textLength="12.3" lengthAdjust="spacingAndGlyphs">Fe</text>
<rect x="948.7" y="167.8" width="20.1" height="20.4" fill="#3fe6f0"/>
<text x="958.8" y="182.2" font-family="'Liberation Sans','DejaVu Sans',sans-serif" font-size="11.4" fill="#111" text-anchor="middle" textLength="10.2" lengthAdjust="spacingAndGlyphs">Ni</text>
<rect x="786.3" y="24.8" width="301.1" height="30.8" fill="#7a0000"/>
<rect x="786.3" y="55.6" width="301.1" height="106.9" fill="#ffff00"/>
<path d="M786.3 55.6 H1087.4 M786.3 83.3 H1087.4 M786.3 112.3 H1087.4 M786.3 137.9 H1087.4 M890.8 24.8 V162.5 M984.2 24.8 V162.5" stroke="#4a3a10" stroke-width="0.8" fill="none"/>
<rect x="786.3" y="24.8" width="301.1" height="137.7" fill="none" stroke="#5a4a20" stroke-width="0.8"/>
<text x="838.0" y="45.2" font-family="'Liberation Serif','DejaVu Serif',serif" font-size="15.5" fill="#fff" text-anchor="middle" textLength="66.3" lengthAdjust="spacingAndGlyphs">Element</text>
<text x="936.5" y="45.2" font-family="'Liberation Serif','DejaVu Serif',serif" font-size="15.5" fill="#fff" text-anchor="middle" textLength="40.0" lengthAdjust="spacingAndGlyphs">Wt%</text>
<text x="1034.8" y="45.2" font-family="'Liberation Serif','DejaVu Serif',serif" font-size="15.5" fill="#fff" text-anchor="middle" textLength="37.0" lengthAdjust="spacingAndGlyphs">At%</text>
<text x="843.5" y="77.8" font-family="'Liberation Sans','DejaVu Sans',sans-serif" font-size="18" fill="#7d6d12" text-anchor="middle" textLength="36.0" lengthAdjust="spacingAndGlyphs">Si K</text>
<text x="937.5" y="74.0" font-family="'DejaVu Sans','Liberation Sans',sans-serif" font-size="12.5" fill="#2e2a08" text-anchor="middle" textLength="35.0" lengthAdjust="spacingAndGlyphs">1.62</text>
<text x="1034.8" y="74.0" font-family="'DejaVu Sans','Liberation Sans',sans-serif" font-size="12.5" fill="#2e2a08" text-anchor="middle" textLength="35.0" lengthAdjust="spacingAndGlyphs">1.95</text>
<text x="843.5" y="104.3" font-family="'Liberation Sans','DejaVu Sans',sans-serif" font-size="18" fill="#7d6d12" text-anchor="middle" textLength="36.0" lengthAdjust="spacingAndGlyphs">Al K</text>
<text x="937.5" y="104.3" font-family="'DejaVu Sans','Liberation Sans',sans-serif" font-size="12.5" fill="#2e2a08" text-anchor="middle" textLength="44.7" lengthAdjust="spacingAndGlyphs">61.42</text>
<text x="1034.8" y="102.3" font-family="'DejaVu Sans','Liberation Sans',sans-serif" font-size="12.5" fill="#2e2a08" text-anchor="middle" textLength="44.7" lengthAdjust="spacingAndGlyphs">76.80</text>
<text x="843.5" y="131.6" font-family="'Liberation Sans','DejaVu Sans',sans-serif" font-size="18" fill="#7d6d12" text-anchor="middle" textLength="36.0" lengthAdjust="spacingAndGlyphs">Fe K</text>
<text x="937.5" y="131.6" font-family="'DejaVu Sans','Liberation Sans',sans-serif" font-size="12.5" fill="#2e2a08" text-anchor="middle" textLength="35.0" lengthAdjust="spacingAndGlyphs">0.54</text>
<text x="1034.8" y="129.6" font-family="'DejaVu Sans','Liberation Sans',sans-serif" font-size="12.5" fill="#2e2a08" text-anchor="middle" textLength="35.0" lengthAdjust="spacingAndGlyphs">0.33</text>
<text x="843.5" y="156.7" font-family="'Liberation Sans','DejaVu Sans',sans-serif" font-size="18" fill="#7d6d12" text-anchor="middle" textLength="36.0" lengthAdjust="spacingAndGlyphs">Ni K</text>
<text x="937.5" y="154.7" font-family="'DejaVu Sans','Liberation Sans',sans-serif" font-size="12.5" fill="#2e2a08" text-anchor="middle" textLength="44.7" lengthAdjust="spacingAndGlyphs">36.42</text>
<text x="1034.8" y="154.7" font-family="'DejaVu Sans','Liberation Sans',sans-serif" font-size="12.5" fill="#2e2a08" text-anchor="middle" textLength="44.7" lengthAdjust="spacingAndGlyphs">20.93</text>
<rect x="37.1" y="355.5" width="509.2" height="276.6" fill="#fff"/>
<path d="M40.3 355.5 V632.1 M50.6 355.5 V632.1 M61.0 355.5 V632.1 M71.3 355.5 V632.1 M91.9 355.5 V632.1 M102.2 355.5 V632.1 M112.6 355.5 V632.1 M122.9 355.5 V632.1 M143.5 355.5 V632.1 M153.8 355.5 V632.1 M164.2 355.5 V632.1 M174.5 355.5 V632.1 M195.1 355.5 V632.1 M205.4 355.5 V632.1 M215.8 355.5 V632.1 M226.1 355.5 V632.1 M246.7 355.5 V632.1 M257.0 355.5 V632.1 M267.4 355.5 V632.1 M277.7 355.5 V632.1 M298.3 355.5 V632.1 M308.6 355.5 V632.1 M319.0 355.5 V632.1 M329.3 355.5 V632.1 M349.9 355.5 V632.1 M360.2 355.5 V632.1 M370.6 355.5 V632.1 M380.9 355.5 V632.1 M401.5 355.5 V632.1 M411.8 355.5 V632.1 M422.2 355.5 V632.1 M432.5 355.5 V632.1 M453.1 355.5 V632.1 M463.4 355.5 V632.1 M473.8 355.5 V632.1 M484.1 355.5 V632.1 M504.7 355.5 V632.1 M515.0 355.5 V632.1 M525.4 355.5 V632.1 M535.7 355.5 V632.1 M37.1 622.1 H546.3 M37.1 612.2 H546.3 M37.1 602.2 H546.3 M37.1 592.2 H546.3 M37.1 572.3 H546.3 M37.1 562.3 H546.3 M37.1 552.3 H546.3 M37.1 542.4 H546.3 M37.1 522.4 H546.3 M37.1 512.5 H546.3 M37.1 502.5 H546.3 M37.1 492.5 H546.3 M37.1 472.6 H546.3 M37.1 462.6 H546.3 M37.1 452.6 H546.3 M37.1 442.7 H546.3 M37.1 422.7 H546.3 M37.1 412.8 H546.3 M37.1 402.8 H546.3 M37.1 392.8 H546.3 M37.1 372.9 H546.3 M37.1 362.9 H546.3" stroke="#f4f4f4" stroke-width="1" fill="none"/>
<path d="M81.6 355.5 V632.1 M133.2 355.5 V632.1 M184.8 355.5 V632.1 M236.4 355.5 V632.1 M288.0 355.5 V632.1 M339.6 355.5 V632.1 M391.2 355.5 V632.1 M442.8 355.5 V632.1 M494.4 355.5 V632.1 M37.1 582.2 H546.3 M37.1 532.4 H546.3 M37.1 482.6 H546.3 M37.1 432.7 H546.3 M37.1 382.9 H546.3" stroke="#ebebeb" stroke-width="1" fill="none"/>
<path d="M37.1 632.1 V355.5 H546.3 V632.1" stroke="#8e8e8e" stroke-width="1" fill="none"/>
<path d="M33.5 632.1 H37.1 M33.5 622.1 H37.1 M33.5 612.2 H37.1 M33.5 602.2 H37.1 M33.5 592.2 H37.1 M33.5 582.2 H37.1 M33.5 572.3 H37.1 M33.5 562.3 H37.1 M33.5 552.3 H37.1 M33.5 542.4 H37.1 M33.5 532.4 H37.1 M33.5 522.4 H37.1 M33.5 512.5 H37.1 M33.5 502.5 H37.1 M33.5 492.5 H37.1 M33.5 482.6 H37.1 M33.5 472.6 H37.1 M33.5 462.6 H37.1 M33.5 452.6 H37.1 M33.5 442.7 H37.1 M33.5 432.7 H37.1 M33.5 422.7 H37.1 M33.5 412.8 H37.1 M33.5 402.8 H37.1 M33.5 392.8 H37.1 M33.5 382.9 H37.1 M33.5 372.9 H37.1 M33.5 362.9 H37.1 M40.3 632.1 V634.9 M50.6 632.1 V634.9 M61.0 632.1 V634.9 M71.3 632.1 V634.9 M81.6 632.1 V637.6 M91.9 632.1 V634.9 M102.2 632.1 V634.9 M112.6 632.1 V634.9 M122.9 632.1 V634.9 M133.2 632.1 V637.6 M143.5 632.1 V634.9 M153.8 632.1 V634.9 M164.2 632.1 V634.9 M174.5 632.1 V634.9 M184.8 632.1 V637.6 M195.1 632.1 V634.9 M205.4 632.1 V634.9 M215.8 632.1 V634.9 M226.1 632.1 V634.9 M236.4 632.1 V637.6 M246.7 632.1 V634.9 M257.0 632.1 V634.9 M267.4 632.1 V634.9 M277.7 632.1 V634.9 M288.0 632.1 V637.6 M298.3 632.1 V634.9 M308.6 632.1 V634.9 M319.0 632.1 V634.9 M329.3 632.1 V634.9 M339.6 632.1 V637.6 M349.9 632.1 V634.9 M360.2 632.1 V634.9 M370.6 632.1 V634.9 M380.9 632.1 V634.9 M391.2 632.1 V637.6 M401.5 632.1 V634.9 M411.8 632.1 V634.9 M422.2 632.1 V634.9 M432.5 632.1 V634.9 M442.8 632.1 V637.6 M453.1 632.1 V634.9 M463.4 632.1 V634.9 M473.8 632.1 V634.9 M484.1 632.1 V634.9 M494.4 632.1 V637.6 M504.7 632.1 V634.9 M515.0 632.1 V634.9 M525.4 632.1 V634.9 M535.7 632.1 V634.9 M546.0 632.1 V637.6" stroke="#6f767c" stroke-width="0.9" fill="none"/>
<text x="30.5" y="636.4" font-family="'Liberation Sans','DejaVu Sans',sans-serif" font-size="11.6" fill="#262626" text-anchor="end" textLength="16.5" lengthAdjust="spacingAndGlyphs">0,0</text>
<text x="30.5" y="586.5" font-family="'Liberation Sans','DejaVu Sans',sans-serif" font-size="11.6" fill="#262626" text-anchor="end" textLength="16.5" lengthAdjust="spacingAndGlyphs">0,5</text>
<text x="30.5" y="536.7" font-family="'Liberation Sans','DejaVu Sans',sans-serif" font-size="11.6" fill="#262626" text-anchor="end" textLength="16.5" lengthAdjust="spacingAndGlyphs">1,0</text>
<text x="30.5" y="486.9" font-family="'Liberation Sans','DejaVu Sans',sans-serif" font-size="11.6" fill="#262626" text-anchor="end" textLength="16.5" lengthAdjust="spacingAndGlyphs">1,5</text>
<text x="30.5" y="437.0" font-family="'Liberation Sans','DejaVu Sans',sans-serif" font-size="11.6" fill="#262626" text-anchor="end" textLength="16.5" lengthAdjust="spacingAndGlyphs">2,0</text>
<text x="30.5" y="387.2" font-family="'Liberation Sans','DejaVu Sans',sans-serif" font-size="11.6" fill="#262626" text-anchor="end" textLength="16.5" lengthAdjust="spacingAndGlyphs">2,5</text>
<text x="81.6" y="652.2" font-family="'Liberation Sans','DejaVu Sans',sans-serif" font-size="11.8" fill="#262626" text-anchor="middle">1</text>
<text x="133.2" y="652.2" font-family="'Liberation Sans','DejaVu Sans',sans-serif" font-size="11.8" fill="#262626" text-anchor="middle">2</text>
<text x="184.8" y="652.2" font-family="'Liberation Sans','DejaVu Sans',sans-serif" font-size="11.8" fill="#262626" text-anchor="middle">3</text>
<text x="236.4" y="652.2" font-family="'Liberation Sans','DejaVu Sans',sans-serif" font-size="11.8" fill="#262626" text-anchor="middle">4</text>
<text x="288.0" y="652.2" font-family="'Liberation Sans','DejaVu Sans',sans-serif" font-size="11.8" fill="#262626" text-anchor="middle">5</text>
<text x="339.6" y="652.2" font-family="'Liberation Sans','DejaVu Sans',sans-serif" font-size="11.8" fill="#262626" text-anchor="middle">6</text>
<text x="391.2" y="652.2" font-family="'Liberation Sans','DejaVu Sans',sans-serif" font-size="11.8" fill="#262626" text-anchor="middle">7</text>
<text x="442.8" y="652.2" font-family="'Liberation Sans','DejaVu Sans',sans-serif" font-size="11.8" fill="#262626" text-anchor="middle">8</text>
<text x="494.4" y="652.2" font-family="'Liberation Sans','DejaVu Sans',sans-serif" font-size="11.8" fill="#262626" text-anchor="middle">9</text>
<text x="545.8" y="652.2" font-family="'Liberation Sans','DejaVu Sans',sans-serif" font-size="11.8" fill="#262626" text-anchor="middle" textLength="12.5" lengthAdjust="spacingAndGlyphs">10</text>
<text x="37.5" y="351.0" font-family="'Liberation Sans','DejaVu Sans',sans-serif" font-size="11" fill="#262626" textLength="66.5" lengthAdjust="spacingAndGlyphs">x 1E3 cps/eV</text>
<text x="62.8" y="376.6" font-family="'Liberation Serif','DejaVu Serif',serif" font-size="12.5" fill="#222" textLength="18.2" lengthAdjust="spacingAndGlyphs">(c)</text>
<clipPath id="xcc"><rect x="241.39999999999998" y="650.4" width="100" height="20.8"/></clipPath>
<text x="291.4" y="670.4" font-family="'Liberation Sans','DejaVu Sans',sans-serif" font-size="13" fill="#262626" text-anchor="middle" textLength="66.3" lengthAdjust="spacingAndGlyphs" clip-path="url(#xcc)">Energy [keV]</text>
<path d="M39.3 632.1 L41.4 627.1 L43.4 597.2 L44.3 588.2 L45.5 597.2 L47.0 626.1 L49.1 632.1Z" fill="#3a9fc0" opacity="1"/>
<path d="M66.1 632.1 L66.6 612.2 L67.7 610.2 L69.2 630.1 L71.3 632.1Z" fill="#3aa890" opacity="1"/>
<path d="M115.7 632.1 L118.8 628.6 L121.8 629.1 L123.9 632.1Z" fill="#3fa8d8" opacity="1"/>
<path d="M161.6 632.1 L165.2 629.3 L168.3 632.1Z" fill="#3fa8d8" opacity="1"/>
<path d="M130.6 632.1 L134.2 629.9 L137.3 632.1Z" fill="#3fa8d8" opacity="1"/>
<path d="M37.1 631.8000000000001 H546.3" stroke="#3f8fd0" stroke-width="1.3"/>
<path d="M66.1 632.1 V522.4" stroke="#3fe6a0" stroke-width="1.3"/>
<path d="M73.9 632.1 V522.4" stroke="#3f8ff0" stroke-width="1.3"/>
<path d="M107.0 632.1 V522.4" stroke="#2f3fe0" stroke-width="1.3"/>
<path d="M119.7 632.1 V522.4" stroke="#3fe6f0" stroke-width="1.3"/>
<path d="M360.4 632.1 V522.4" stroke="#3fe6a0" stroke-width="1.3"/>
<path d="M416.0 632.1 V522.4" stroke="#3f8ff0" stroke-width="1.3"/>
<path d="M61.5 632.1 V600.2" stroke="#3fe6a0" stroke-width="1.3"/>
<path d="M67.0 632.1 V604.2" stroke="#3fe6a0" stroke-width="1.4"/>
<path d="M74.2 632.1 V601.2" stroke="#3f8ff0" stroke-width="1.5"/>
<path d="M124.9 632.1 V627.1" stroke="#6fdcf0" stroke-width="1.3"/>
<path d="M394.3 632.1 V617.1" stroke="#3fe6a0" stroke-width="1.2"/>
<path d="M456.7 632.1 V617.1" stroke="#3f8ff0" stroke-width="1.2"/>
<path d="M360.0 632.1 V576.3" stroke="#3fe6a0" stroke-width="1.8"/>
<path d="M415.5 632.1 V576.3" stroke="#3f8ff0" stroke-width="1.8"/>
<rect x="64.5" y="481.8" width="19.7" height="20.0" fill="#3f8ff0"/>
<text x="74.3" y="495.8" font-family="'Liberation Sans','DejaVu Sans',sans-serif" font-size="11.4" fill="#111" text-anchor="middle" textLength="10.2" lengthAdjust="spacingAndGlyphs">Ni</text>
<rect x="56.1" y="500.2" width="20.3" height="19.8" fill="#3fe6a0"/>
<text x="66.2" y="514.0" font-family="'Liberation Sans','DejaVu Sans',sans-serif" font-size="11.4" fill="#111" text-anchor="middle" textLength="12.3" lengthAdjust="spacingAndGlyphs">Fe</text>
<rect x="111.6" y="481.8" width="16.9" height="20.0" fill="#3fe6f0"/>
<text x="120.0" y="495.8" font-family="'Liberation Sans','DejaVu Sans',sans-serif" font-size="11.4" fill="#111" text-anchor="middle" textLength="9.4" lengthAdjust="spacingAndGlyphs">Si</text>
<rect x="97.6" y="500.2" width="18.7" height="19.8" fill="#2f3fe0"/>
<text x="106.9" y="514.0" font-family="'Liberation Sans','DejaVu Sans',sans-serif" font-size="11.4" fill="#fff" text-anchor="middle" textLength="9.6" lengthAdjust="spacingAndGlyphs">Al</text>
<rect x="350.1" y="500.2" width="21.2" height="19.8" fill="#3fe6a0"/>
<text x="360.7" y="514.0" font-family="'Liberation Sans','DejaVu Sans',sans-serif" font-size="11.4" fill="#111" text-anchor="middle" textLength="12.3" lengthAdjust="spacingAndGlyphs">Fe</text>
<rect x="406.3" y="500.2" width="19.6" height="19.8" fill="#3f8ff0"/>
<text x="416.1" y="514.0" font-family="'Liberation Sans','DejaVu Sans',sans-serif" font-size="11.4" fill="#111" text-anchor="middle" textLength="10.2" lengthAdjust="spacingAndGlyphs">Ni</text>
<rect x="232.2" y="356.8" width="312.5" height="30.5" fill="#7a0000"/>
<rect x="232.2" y="387.3" width="312.5" height="110.6" fill="#ffff00"/>
<path d="M232.2 387.3 H544.7 M232.2 416.4 H544.7 M232.2 446.3 H544.7 M232.2 472.3 H544.7 M340.6 356.8 V497.9 M438.4 356.8 V497.9" stroke="#4a3a10" stroke-width="0.8" fill="none"/>
<rect x="232.2" y="356.8" width="312.5" height="141.1" fill="none" stroke="#5a4a20" stroke-width="0.8"/>
<text x="285.9" y="377.1" font-family="'Liberation Serif','DejaVu Serif',serif" font-size="15.5" fill="#fff" text-anchor="middle" textLength="68.0" lengthAdjust="spacingAndGlyphs">Element</text>
<text x="388.5" y="377.1" font-family="'Liberation Serif','DejaVu Serif',serif" font-size="15.5" fill="#fff" text-anchor="middle" textLength="40.0" lengthAdjust="spacingAndGlyphs">Wt%</text>
<text x="490.6" y="377.1" font-family="'Liberation Serif','DejaVu Serif',serif" font-size="15.5" fill="#fff" text-anchor="middle" textLength="37.0" lengthAdjust="spacingAndGlyphs">At%</text>
<text x="291.4" y="409.7" font-family="'Liberation Sans','DejaVu Sans',sans-serif" font-size="20" fill="#7d6d12" text-anchor="middle" textLength="38.0" lengthAdjust="spacingAndGlyphs">Si K</text>
<text x="389.5" y="407.2" font-family="'DejaVu Sans','Liberation Sans',sans-serif" font-size="12.5" fill="#2e2a08" text-anchor="middle" textLength="44.7" lengthAdjust="spacingAndGlyphs">16.73</text>
<text x="490.6" y="407.2" font-family="'DejaVu Sans','Liberation Sans',sans-serif" font-size="12.5" fill="#2e2a08" text-anchor="middle" textLength="44.7" lengthAdjust="spacingAndGlyphs">27.22</text>
<text x="291.9" y="438.4" font-family="'Liberation Sans','DejaVu Sans',sans-serif" font-size="20" fill="#7d6d12" text-anchor="middle" textLength="41.0" lengthAdjust="spacingAndGlyphs" font-weight="bold">Al K</text>
<text x="389.5" y="436.4" font-family="'DejaVu Sans','Liberation Sans',sans-serif" font-size="12.5" fill="#2e2a08" text-anchor="middle" textLength="35.0" lengthAdjust="spacingAndGlyphs">5.85</text>
<text x="490.6" y="436.4" font-family="'DejaVu Sans','Liberation Sans',sans-serif" font-size="12.5" fill="#2e2a08" text-anchor="middle" textLength="35.0" lengthAdjust="spacingAndGlyphs">9.91</text>
<text x="293.4" y="468.3" font-family="'Liberation Sans','DejaVu Sans',sans-serif" font-size="20" fill="#7d6d12" text-anchor="middle" textLength="41.0" lengthAdjust="spacingAndGlyphs" font-weight="bold">Fe K</text>
<text x="389.5" y="465.8" font-family="'DejaVu Sans','Liberation Sans',sans-serif" font-size="12.5" fill="#2e2a08" text-anchor="middle" textLength="44.7" lengthAdjust="spacingAndGlyphs">65.49</text>
<text x="490.6" y="463.3" font-family="'DejaVu Sans','Liberation Sans',sans-serif" font-size="12.5" fill="#2e2a08" text-anchor="middle" textLength="44.7" lengthAdjust="spacingAndGlyphs">53.59</text>
<text x="293.4" y="492.7" font-family="'Liberation Sans','DejaVu Sans',sans-serif" font-size="20" fill="#7d6d12" text-anchor="middle" textLength="41.0" lengthAdjust="spacingAndGlyphs" font-weight="bold">Ni K</text>
<text x="389.5" y="490.1" font-family="'DejaVu Sans','Liberation Sans',sans-serif" font-size="12.5" fill="#2e2a08" text-anchor="middle" textLength="44.7" lengthAdjust="spacingAndGlyphs">11.93</text>
<text x="490.6" y="490.1" font-family="'DejaVu Sans','Liberation Sans',sans-serif" font-size="12.5" fill="#2e2a08" text-anchor="middle" textLength="35.0" lengthAdjust="spacingAndGlyphs">9.29</text>
<rect x="591.8" y="357.5" width="507.5" height="275.3" fill="#fff"/>
<path d="M595.3 357.5 V632.8 M605.6 357.5 V632.8 M615.9 357.5 V632.8 M626.1 357.5 V632.8 M646.7 357.5 V632.8 M657.0 357.5 V632.8 M667.3 357.5 V632.8 M677.6 357.5 V632.8 M698.1 357.5 V632.8 M708.4 357.5 V632.8 M718.7 357.5 V632.8 M729.0 357.5 V632.8 M749.5 357.5 V632.8 M759.8 357.5 V632.8 M770.1 357.5 V632.8 M780.4 357.5 V632.8 M801.0 357.5 V632.8 M811.2 357.5 V632.8 M821.5 357.5 V632.8 M831.8 357.5 V632.8 M852.4 357.5 V632.8 M862.7 357.5 V632.8 M873.0 357.5 V632.8 M883.2 357.5 V632.8 M903.8 357.5 V632.8 M914.1 357.5 V632.8 M924.4 357.5 V632.8 M934.7 357.5 V632.8 M955.2 357.5 V632.8 M965.5 357.5 V632.8 M975.8 357.5 V632.8 M986.1 357.5 V632.8 M1006.6 357.5 V632.8 M1016.9 357.5 V632.8 M1027.2 357.5 V632.8 M1037.5 357.5 V632.8 M1058.1 357.5 V632.8 M1068.3 357.5 V632.8 M1078.6 357.5 V632.8 M1088.9 357.5 V632.8 M591.8 622.9 H1099.3 M591.8 613.0 H1099.3 M591.8 603.1 H1099.3 M591.8 593.2 H1099.3 M591.8 573.3 H1099.3 M591.8 563.4 H1099.3 M591.8 553.5 H1099.3 M591.8 543.6 H1099.3 M591.8 523.8 H1099.3 M591.8 513.9 H1099.3 M591.8 504.0 H1099.3 M591.8 494.1 H1099.3 M591.8 474.2 H1099.3 M591.8 464.3 H1099.3 M591.8 454.4 H1099.3 M591.8 444.5 H1099.3 M591.8 424.7 H1099.3 M591.8 414.8 H1099.3 M591.8 404.9 H1099.3 M591.8 395.0 H1099.3 M591.8 375.1 H1099.3 M591.8 365.2 H1099.3" stroke="#f4f4f4" stroke-width="1" fill="none"/>
<path d="M636.4 357.5 V632.8 M687.8 357.5 V632.8 M739.3 357.5 V632.8 M790.7 357.5 V632.8 M842.1 357.5 V632.8 M893.5 357.5 V632.8 M944.9 357.5 V632.8 M996.4 357.5 V632.8 M1047.8 357.5 V632.8 M591.8 583.2 H1099.3 M591.8 533.7 H1099.3 M591.8 484.1 H1099.3 M591.8 434.6 H1099.3 M591.8 385.0 H1099.3" stroke="#ebebeb" stroke-width="1" fill="none"/>
<path d="M591.8 632.8 V357.5 H1099.3 V632.8" stroke="#8e8e8e" stroke-width="1" fill="none"/>
<path d="M588.1999999999999 632.8 H591.8 M588.1999999999999 622.9 H591.8 M588.1999999999999 613.0 H591.8 M588.1999999999999 603.1 H591.8 M588.1999999999999 593.2 H591.8 M588.1999999999999 583.2 H591.8 M588.1999999999999 573.3 H591.8 M588.1999999999999 563.4 H591.8 M588.1999999999999 553.5 H591.8 M588.1999999999999 543.6 H591.8 M588.1999999999999 533.7 H591.8 M588.1999999999999 523.8 H591.8 M588.1999999999999 513.9 H591.8 M588.1999999999999 504.0 H591.8 M588.1999999999999 494.1 H591.8 M588.1999999999999 484.1 H591.8 M588.1999999999999 474.2 H591.8 M588.1999999999999 464.3 H591.8 M588.1999999999999 454.4 H591.8 M588.1999999999999 444.5 H591.8 M588.1999999999999 434.6 H591.8 M588.1999999999999 424.7 H591.8 M588.1999999999999 414.8 H591.8 M588.1999999999999 404.9 H591.8 M588.1999999999999 395.0 H591.8 M588.1999999999999 385.0 H591.8 M588.1999999999999 375.1 H591.8 M588.1999999999999 365.2 H591.8 M595.3 632.8 V635.5999999999999 M605.6 632.8 V635.5999999999999 M615.9 632.8 V635.5999999999999 M626.1 632.8 V635.5999999999999 M636.4 632.8 V638.3 M646.7 632.8 V635.5999999999999 M657.0 632.8 V635.5999999999999 M667.3 632.8 V635.5999999999999 M677.6 632.8 V635.5999999999999 M687.8 632.8 V638.3 M698.1 632.8 V635.5999999999999 M708.4 632.8 V635.5999999999999 M718.7 632.8 V635.5999999999999 M729.0 632.8 V635.5999999999999 M739.3 632.8 V638.3 M749.5 632.8 V635.5999999999999 M759.8 632.8 V635.5999999999999 M770.1 632.8 V635.5999999999999 M780.4 632.8 V635.5999999999999 M790.7 632.8 V638.3 M801.0 632.8 V635.5999999999999 M811.2 632.8 V635.5999999999999 M821.5 632.8 V635.5999999999999 M831.8 632.8 V635.5999999999999 M842.1 632.8 V638.3 M852.4 632.8 V635.5999999999999 M862.7 632.8 V635.5999999999999 M873.0 632.8 V635.5999999999999 M883.2 632.8 V635.5999999999999 M893.5 632.8 V638.3 M903.8 632.8 V635.5999999999999 M914.1 632.8 V635.5999999999999 M924.4 632.8 V635.5999999999999 M934.7 632.8 V635.5999999999999 M944.9 632.8 V638.3 M955.2 632.8 V635.5999999999999 M965.5 632.8 V635.5999999999999 M975.8 632.8 V635.5999999999999 M986.1 632.8 V635.5999999999999 M996.4 632.8 V638.3 M1006.6 632.8 V635.5999999999999 M1016.9 632.8 V635.5999999999999 M1027.2 632.8 V635.5999999999999 M1037.5 632.8 V635.5999999999999 M1047.8 632.8 V638.3 M1058.1 632.8 V635.5999999999999 M1068.3 632.8 V635.5999999999999 M1078.6 632.8 V635.5999999999999 M1088.9 632.8 V635.5999999999999 M1099.2 632.8 V638.3" stroke="#6f767c" stroke-width="0.9" fill="none"/>
<text x="584.5" y="637.1" font-family="'Liberation Sans','DejaVu Sans',sans-serif" font-size="11.6" fill="#262626" text-anchor="end" textLength="16.5" lengthAdjust="spacingAndGlyphs">0,0</text>
<text x="584.5" y="587.5" font-family="'Liberation Sans','DejaVu Sans',sans-serif" font-size="11.6" fill="#262626" text-anchor="end" textLength="16.5" lengthAdjust="spacingAndGlyphs">0,5</text>
<text x="584.5" y="538.0" font-family="'Liberation Sans','DejaVu Sans',sans-serif" font-size="11.6" fill="#262626" text-anchor="end" textLength="16.5" lengthAdjust="spacingAndGlyphs">1,0</text>
<text x="584.5" y="488.4" font-family="'Liberation Sans','DejaVu Sans',sans-serif" font-size="11.6" fill="#262626" text-anchor="end" textLength="16.5" lengthAdjust="spacingAndGlyphs">1,5</text>
<text x="584.5" y="438.9" font-family="'Liberation Sans','DejaVu Sans',sans-serif" font-size="11.6" fill="#262626" text-anchor="end" textLength="16.5" lengthAdjust="spacingAndGlyphs">2,0</text>
<text x="584.5" y="389.3" font-family="'Liberation Sans','DejaVu Sans',sans-serif" font-size="11.6" fill="#262626" text-anchor="end" textLength="16.5" lengthAdjust="spacingAndGlyphs">2,5</text>
<text x="636.4" y="652.2" font-family="'Liberation Sans','DejaVu Sans',sans-serif" font-size="11.8" fill="#262626" text-anchor="middle">1</text>
<text x="687.8" y="652.2" font-family="'Liberation Sans','DejaVu Sans',sans-serif" font-size="11.8" fill="#262626" text-anchor="middle">2</text>
<text x="739.3" y="652.2" font-family="'Liberation Sans','DejaVu Sans',sans-serif" font-size="11.8" fill="#262626" text-anchor="middle">3</text>
<text x="790.7" y="652.2" font-family="'Liberation Sans','DejaVu Sans',sans-serif" font-size="11.8" fill="#262626" text-anchor="middle">4</text>
<text x="842.1" y="652.2" font-family="'Liberation Sans','DejaVu Sans',sans-serif" font-size="11.8" fill="#262626" text-anchor="middle">5</text>
<text x="893.5" y="652.2" font-family="'Liberation Sans','DejaVu Sans',sans-serif" font-size="11.8" fill="#262626" text-anchor="middle">6</text>
<text x="944.9" y="652.2" font-family="'Liberation Sans','DejaVu Sans',sans-serif" font-size="11.8" fill="#262626" text-anchor="middle">7</text>
<text x="996.4" y="652.2" font-family="'Liberation Sans','DejaVu Sans',sans-serif" font-size="11.8" fill="#262626" text-anchor="middle">8</text>
<text x="1047.8" y="652.2" font-family="'Liberation Sans','DejaVu Sans',sans-serif" font-size="11.8" fill="#262626" text-anchor="middle">9</text>
<text x="1099.0" y="652.2" font-family="'Liberation Sans','DejaVu Sans',sans-serif" font-size="11.8" fill="#262626" text-anchor="middle" textLength="12.5" lengthAdjust="spacingAndGlyphs">10</text>
<text x="592.2" y="353.0" font-family="'Liberation Sans','DejaVu Sans',sans-serif" font-size="11" fill="#262626" textLength="66.5" lengthAdjust="spacingAndGlyphs">x 1E3 cps/eV</text>
<text x="611.0" y="380.0" font-family="'Liberation Serif','DejaVu Serif',serif" font-size="12.5" fill="#222" textLength="18.0" lengthAdjust="spacingAndGlyphs">(d)</text>
<text x="844.8" y="670.4" font-family="'Liberation Sans','DejaVu Sans',sans-serif" font-size="13" fill="#262626" text-anchor="middle" textLength="66.3" lengthAdjust="spacingAndGlyphs">Energy [keV]</text>
<path d="M595.3 632.8 L597.3 630.8 L598.6 625.9 L599.9 630.8 L602.0 632.8Z" fill="#8a9a28" opacity="1"/>
<path d="M649.3 632.8 L656.0 629.8 L658.5 613.0 L660.1 553.5 L661.4 521.8 L662.6 553.5 L664.2 613.0 L667.3 628.8 L675.0 631.8 L682.7 632.8Z" fill="#7f962c" opacity="1"/>
<path d="M659.6 632.8 L660.3 573.3 L661.4 521.8 L662.4 573.3 L663.2 632.8Z" fill="#56691c" opacity="1"/>
<path d="M591.8 632.5 H1099.3" stroke="#8a9a30" stroke-width="1.3"/>
<path d="M620.8 632.8 V523.8" stroke="#3fe6a0" stroke-width="1.3"/>
<path d="M628.3 632.8 V523.8" stroke="#3fe6f0" stroke-width="1.3"/>
<path d="M661.3 632.8 V523.8" stroke="#2f3fe0" stroke-width="1.3"/>
<path d="M673.8 632.8 V523.8" stroke="#f03f8f" stroke-width="1.3"/>
<path d="M913.6 632.8 V523.8" stroke="#3fe6a0" stroke-width="1.3"/>
<path d="M969.1 632.8 V523.8" stroke="#3fe6f0" stroke-width="1.3"/>
<path d="M615.9 632.8 V602.1" stroke="#3fe6a0" stroke-width="1.3"/>
<path d="M621.8 632.8 V605.1" stroke="#3fe6a0" stroke-width="1.5"/>
<path d="M628.7 632.8 V603.1" stroke="#3fe6f0" stroke-width="1.5"/>
<path d="M679.1 632.8 V627.8" stroke="#f03f8f" stroke-width="1.2"/>
<path d="M591.9 632.8 V629.8" stroke="#e04040" stroke-width="1.5"/>
<path d="M947.8 632.8 V618.9" stroke="#3fe6a0" stroke-width="1.3"/>
<path d="M1009.7 632.8 V618.9" stroke="#3fe6f0" stroke-width="1.3"/>
<path d="M913.3 632.8 V577.3" stroke="#3fe6a0" stroke-width="1.8"/>
<path d="M968.6 632.8 V577.3" stroke="#3fe6f0" stroke-width="1.8"/>
<rect x="610.2" y="483.4" width="20.9" height="20.0" fill="#3fe6a0"/>
<text x="620.7" y="497.4" font-family="'Liberation Sans','DejaVu Sans',sans-serif" font-size="11.4" fill="#111" text-anchor="middle" textLength="12.3" lengthAdjust="spacingAndGlyphs">Fe</text>
<rect x="618.6" y="501.2" width="19.6" height="20.3" fill="#3fe6f0"/>
<text x="628.4" y="515.5" font-family="'Liberation Sans','DejaVu Sans',sans-serif" font-size="11.4" fill="#111" text-anchor="middle" textLength="10.2" lengthAdjust="spacingAndGlyphs">Ni</text>
<rect x="666" y="483.4" width="17.1" height="20.0" fill="#f03f8f"/>
<text x="674.5" y="497.4" font-family="'Liberation Sans','DejaVu Sans',sans-serif" font-size="11.4" fill="#fff" text-anchor="middle" textLength="9.4" lengthAdjust="spacingAndGlyphs">Si</text>
<rect x="652" y="501.2" width="18.7" height="20.3" fill="#2f3fe0"/>
<text x="661.4" y="515.5" font-family="'Liberation Sans','DejaVu Sans',sans-serif" font-size="11.4" fill="#fff" text-anchor="middle" textLength="9.6" lengthAdjust="spacingAndGlyphs">Al</text>
<rect x="903.6" y="501.2" width="20.6" height="20.3" fill="#3fe6a0"/>
<text x="913.9" y="515.5" font-family="'Liberation Sans','DejaVu Sans',sans-serif" font-size="11.4" fill="#111" text-anchor="middle" textLength="12.3" lengthAdjust="spacingAndGlyphs">Fe</text>
<rect x="959.8" y="501.2" width="20.0" height="20.3" fill="#3fe6f0"/>
<text x="969.8" y="515.5" font-family="'Liberation Sans','DejaVu Sans',sans-serif" font-size="11.4" fill="#111" text-anchor="middle" textLength="10.2" lengthAdjust="spacingAndGlyphs">Ni</text>
<rect x="816.3" y="358.3" width="282.3" height="30.9" fill="#7a0000"/>
<rect x="816.3" y="389.2" width="282.3" height="108.8" fill="#ffff00"/>
<path d="M816.3 389.2 H1098.6 M816.3 418.2 H1098.6 M816.3 446.3 H1098.6 M816.3 472.7 H1098.6 M913.9 358.3 V498.0 M1001.4 358.3 V498.0" stroke="#4a3a10" stroke-width="0.8" fill="none"/>
<rect x="816.3" y="358.3" width="282.3" height="139.7" fill="none" stroke="#5a4a20" stroke-width="0.8"/>
<rect x="853" y="497.5" width="36.5" height="3.5" fill="#ffff00"/>
<text x="864.6" y="378.8" font-family="'Liberation Serif','DejaVu Serif',serif" font-size="15.5" fill="#fff" text-anchor="middle" textLength="62.5" lengthAdjust="spacingAndGlyphs">Element</text>
<text x="956.6" y="378.8" font-family="'Liberation Serif','DejaVu Serif',serif" font-size="15.5" fill="#fff" text-anchor="middle" textLength="40.0" lengthAdjust="spacingAndGlyphs">Wt%</text>
<text x="1049.0" y="378.8" font-family="'Liberation Serif','DejaVu Serif',serif" font-size="15.5" fill="#fff" text-anchor="middle" textLength="37.0" lengthAdjust="spacingAndGlyphs">At%</text>
<text x="868.1" y="410.7" font-family="'Liberation Sans','DejaVu Sans',sans-serif" font-size="19" fill="#7d6d12" text-anchor="middle" textLength="39.5" lengthAdjust="spacingAndGlyphs" font-weight="bold">Si K</text>
<text x="957.6" y="408.2" font-family="'DejaVu Sans','Liberation Sans',sans-serif" font-size="12.5" fill="#2e2a08" text-anchor="middle" textLength="35.0" lengthAdjust="spacingAndGlyphs">5.00</text>
<text x="1049.0" y="408.2" font-family="'DejaVu Sans','Liberation Sans',sans-serif" font-size="12.5" fill="#2e2a08" text-anchor="middle" textLength="35.0" lengthAdjust="spacingAndGlyphs">5.24</text>
<text x="870.1" y="439.2" font-family="'Liberation Sans','DejaVu Sans',sans-serif" font-size="19" fill="#7d6d12" text-anchor="middle" textLength="39.5" lengthAdjust="spacingAndGlyphs" font-weight="bold">Al K</text>
<text x="957.6" y="438.8" font-family="'DejaVu Sans','Liberation Sans',sans-serif" font-size="12.5" fill="#2e2a08" text-anchor="middle" textLength="44.7" lengthAdjust="spacingAndGlyphs">80.23</text>
<text x="1049.0" y="435.8" font-family="'DejaVu Sans','Liberation Sans',sans-serif" font-size="12.5" fill="#2e2a08" text-anchor="middle" textLength="44.7" lengthAdjust="spacingAndGlyphs">87.37</text>
<text x="869.6" y="467.0" font-family="'Liberation Sans','DejaVu Sans',sans-serif" font-size="19" fill="#7d6d12" text-anchor="middle" textLength="39.5" lengthAdjust="spacingAndGlyphs" font-weight="bold">Fe k</text>
<text x="957.6" y="465.5" font-family="'DejaVu Sans','Liberation Sans',sans-serif" font-size="12.5" fill="#2e2a08" text-anchor="middle" textLength="35.0" lengthAdjust="spacingAndGlyphs">0.00</text>
<text x="1049.0" y="463.0" font-family="'DejaVu Sans','Liberation Sans',sans-serif" font-size="12.5" fill="#2e2a08" text-anchor="middle" textLength="35.0" lengthAdjust="spacingAndGlyphs">0.00</text>
<text x="871.1" y="494.9" font-family="'Liberation Sans','DejaVu Sans',sans-serif" font-size="19" fill="#7d6d12" text-anchor="middle" textLength="36.5" lengthAdjust="spacingAndGlyphs">Ni K</text>
<text x="957.6" y="489.9" font-family="'DejaVu Sans','Liberation Sans',sans-serif" font-size="12.5" fill="#2e2a08" text-anchor="middle" textLength="44.7" lengthAdjust="spacingAndGlyphs">14.77</text>
<text x="1049.0" y="489.9" font-family="'DejaVu Sans','Liberation Sans',sans-serif" font-size="12.5" fill="#2e2a08" text-anchor="middle" textLength="35.0" lengthAdjust="spacingAndGlyphs">7.39</text>
</svg>
</body></html>
